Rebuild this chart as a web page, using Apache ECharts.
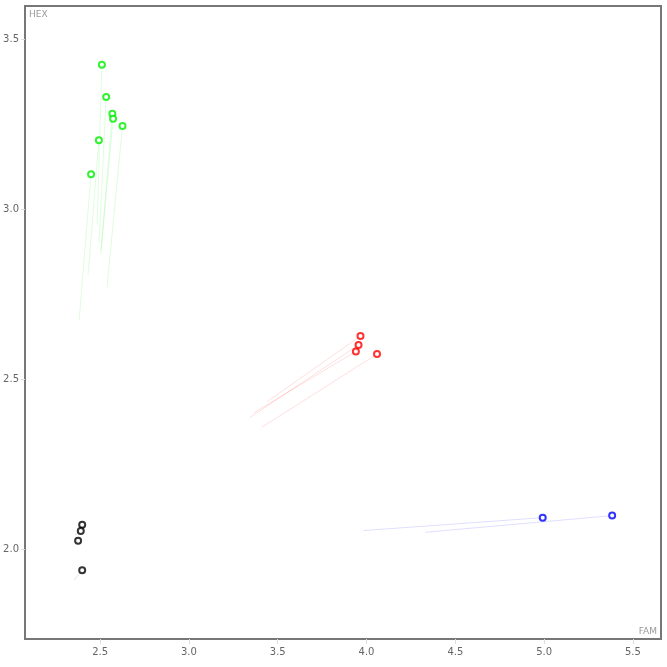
<!DOCTYPE html>
<html><head><meta charset="utf-8">
<script src="https://cdn.jsdelivr.net/npm/echarts@6/dist/echarts.min.js"></script>
<style>html,body{margin:0;padding:0;background:#fff}#c{width:667px;height:667px}</style>
</head><body><div id="c"></div>
<script>
// Group data: current points (x=FAM, y=HEX) and the earlier positions their trails start from
const greenX = [2.510, 2.534, 2.569, 2.573, 2.626, 2.493, 2.449];
const greenY = [3.424, 3.329, 3.280, 3.265, 3.244, 3.202, 3.102];
const greenTrailX = [2.483, 2.494, 2.503, 2.506, 2.539, 2.432, 2.382];
const greenTrailY = [2.953, 2.900, 2.868, 2.879, 2.771, 2.806, 2.674];

const redX = [3.966, 3.955, 3.940, 4.059];
const redY = [2.626, 2.600, 2.581, 2.573];
const redTrailX = [3.439, 3.345, 3.364, 3.411];
const redTrailY = [2.433, 2.387, 2.400, 2.358];

const blackX = [2.399, 2.391, 2.376, 2.399];
const blackY = [2.071, 2.053, 2.024, 1.937];
const blackTrailX = [2.395, 2.359, 2.372, 2.354];
const blackTrailY = [2.062, 2.041, 2.018, 1.909];

const blueX = [4.992, 5.383];
const blueY = [2.092, 2.098];
const blueTrailX = [3.983, 4.331];
const blueTrailY = [2.054, 2.049];

const xTickLabels = ['2.5','3.0','3.5','4.0','4.5','5.0','5.5'];
const yTickLabels = ['2.0','2.5','3.0','3.5'];

const groups = [
  {color:'#00ee00', x:greenX, y:greenY, tx:greenTrailX, ty:greenTrailY},
  {color:'#ff0000', x:redX, y:redY, tx:redTrailX, ty:redTrailY},
  {color:'#000000', x:blackX, y:blackY, tx:blackTrailX, ty:blackTrailY},
  {color:'#0000ff', x:blueX, y:blueY, tx:blueTrailX, ty:blueTrailY}
];

const series = [];
groups.forEach(g => {
  series.push({
    type:'lines', coordinateSystem:'cartesian2d', silent:true,
    lineStyle:{color:g.color, width:1, opacity:0.13},
    data: g.x.map((v,i)=>({coords:[[g.tx[i], g.ty[i]],[v, g.y[i]]]}))
  });
  series.push({
    type:'scatter', symbol:'circle', symbolSize:6,
    itemStyle:{color:'#fff', borderColor:g.color, borderWidth:2},
    data: g.x.map((v,i)=>[v, g.y[i]])
  });
});

const fmt = list => v => { const s = (Math.round(v*10)/10).toFixed(1); return (Math.abs(v*2 - Math.round(v*2))<1e-6 && list.includes(s)) ? s : ''; };

const chart = echarts.init(document.getElementById('c'));
chart.setOption({
  animation:false,
  backgroundColor:'#fff',
  grid:{left:25, right:6, top:6, bottom:28, show:true, borderColor:'#777', borderWidth:2, containLabel:false},
  xAxis:{
    type:'value', min:2.077, max:5.658, splitNumber:7,
    name:'FAM', nameLocation:'end', nameGap:-4,
    nameTextStyle:{color:'#999', fontSize:9, fontFamily:'DejaVu Sans', align:'right', verticalAlign:'bottom', padding:[0,0,3,0]},
    axisLine:{show:false}, splitLine:{show:false},
    axisTick:{show:true, length:5, lineStyle:{color:'#ddd'}},
    axisLabel:{color:'#666', fontSize:10, fontFamily:'DejaVu Sans', margin:8, showMinLabel:false, showMaxLabel:false, formatter:fmt(xTickLabels)}
  },
  yAxis:{
    type:'value', min:1.735, max:3.597, splitNumber:4,
    name:'HEX', nameLocation:'end', nameGap:-4,
    nameTextStyle:{color:'#999', fontSize:9, fontFamily:'DejaVu Sans', align:'left', verticalAlign:'top', padding:[0,0,0,4]},
    axisLine:{show:false}, splitLine:{show:false},
    axisTick:{show:true, length:4, lineStyle:{color:'#ddd'}},
    axisLabel:{color:'#666', fontSize:10, fontFamily:'DejaVu Sans', margin:6, showMinLabel:false, showMaxLabel:false, formatter:fmt(yTickLabels)}
  },
  series: series
});
</script>
</body></html>
